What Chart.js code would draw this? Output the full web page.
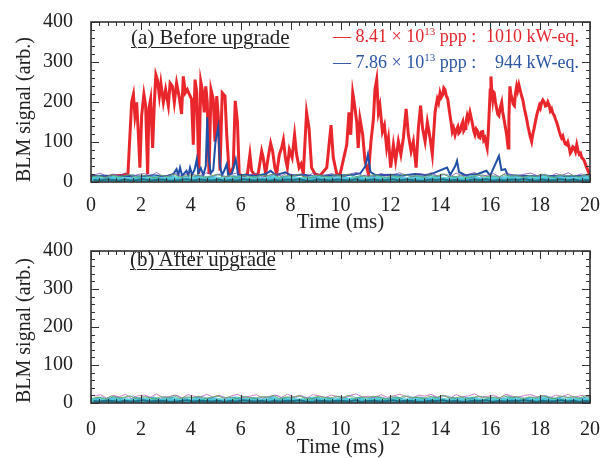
<!DOCTYPE html>
<html>
<head>
<meta charset="utf-8">
<script src="https://cdn.jsdelivr.net/npm/chart.js@4.4.1/dist/chart.umd.min.js"></script>
<style>
  body { margin: 0; background: #fff; }
  #wrap { position: relative; width: 612px; height: 458px; font-family: "Liberation Serif", serif; }
  canvas { position: absolute; left: 0; }
  .tag { position: absolute; font-size: 21px; color: #222; text-decoration: underline; text-decoration-thickness: 1px; text-underline-offset: 3px; white-space: pre; }
  .leg { position: absolute; left: 333px; width: 246px; font-size: 18px; display: flex; justify-content: space-between; white-space: pre; }
  .leg sup { font-size: 11px; vertical-align: 7px; line-height: 0; }
</style>
</head>
<body>
<div id="wrap">
  <canvas id="chartA" width="612" height="240" style="top:0"></canvas>
  <canvas id="chartB" width="612" height="229" style="top:229px"></canvas>
  <div class="tag" style="left:131px; top:25px">(a) Before upgrade</div>
  <div class="tag" style="left:130px; top:247px">(b) After upgrade</div>
  <div class="leg" style="top:26px; color:#e4262c"><span>— 8.41 × 10<sup>13</sup> ppp :</span><span>1010 kW-eq.</span></div>
  <div class="leg" style="top:52px; color:#2d55a5"><span>— 7.86 × 10<sup>13</sup> ppp :</span><span>944 kW-eq.</span></div>
</div>
<script>
// x ticks / y ticks
let xTicks = [0, 2, 4, 6, 8, 10, 12, 14, 16, 18, 20];
let yTicks = [0, 100, 200, 300, 400];

// 8.41e13 ppp (red)
let redTimes = [0,0.4,0.8,1.2,1.48,1.63,1.70,1.76,1.83,1.90,1.96,2.03,2.12,2.19,2.27,2.32,2.39,2.47,2.54,2.60,
  2.66,2.74,2.80,2.90,2.99,3.10,3.17,3.26,3.34,3.43,3.54,3.63,3.70,3.78,3.86,3.97,4.03,4.10,4.17,4.24,
  4.32,4.40,4.46,4.54,4.60,4.66,4.73,4.81,4.90,4.97,5.04,5.10,5.17,5.26,5.37,5.44,5.54,5.70,5.78,5.87,
  5.94,6.10,6.27,6.37,6.44,6.57,6.70,6.84,6.90,7.00,7.10,7.20,7.28,7.37,7.44,7.55,7.64,7.71,7.79,7.87,
  7.95,8.06,8.16,8.24,8.34,8.42,8.51,8.64,8.74,8.84,8.98,9.18,9.45,9.62,9.71,9.85,9.98,10.25,10.34,10.41,
  10.49,10.55,10.65,10.71,10.78,10.89,10.98,11.12,11.22,11.32,11.38,11.45,11.52,11.58,11.68,11.76,11.85,11.92,12.01,12.12,
  12.21,12.32,12.42,12.52,12.63,12.72,12.83,12.92,13.03,13.12,13.21,13.29,13.39,13.48,13.59,13.68,
  13.79,13.83,13.88,13.93,13.99,14.04,14.10,14.14,14.19,14.24,14.30,14.34,14.39,14.43,14.48,14.53,14.59,14.64,14.70,14.74,
  14.79,14.84,14.90,14.94,14.99,15.03,15.08,15.13,15.19,15.24,15.30,15.34,15.39,15.44,15.50,15.54,15.59,15.64,15.70,15.74,
  15.79,15.83,15.88,15.92,15.96,16.00,16.03,16.06,16.10,16.13,16.16,16.21,16.26,16.30,16.35,16.40,16.46,16.50,16.55,16.60,
  16.66,16.69,16.72,16.75,16.79,16.83,16.88,16.92,16.97,17.01,17.06,17.10,17.15,17.20,17.26,17.31,17.37,17.41,17.46,17.51,
  17.56,17.61,17.66,17.71,17.76,17.81,17.86,17.91,17.97,18.01,18.06,18.11,18.17,18.21,18.26,18.31,18.37,18.41,18.46,18.51,
  18.57,18.61,18.66,18.71,18.77,18.81,18.86,18.91,18.97,19.01,19.06,19.11,19.17,19.21,19.26,19.31,19.37,19.42,19.47,19.52,
  19.57,19.62,19.67,19.72,19.77,19.82,19.87,19.92,19.97];
let redValues = [14,12,15,16,20,200,219,166,199,118,36,166,219,191,20,183,207,85,199,268,
  256,215,247,199,231,191,247,239,199,247,211,170,264,223,231,215,207,93,256,223,
  20,251,231,174,239,199,20,231,207,101,215,166,28,223,215,118,20,36,203,150,
  20,12,20,69,28,16,20,77,61,20,61,97,77,36,20,69,85,105,61,36,
  81,61,118,69,36,45,20,174,134,36,20,16,36,142,61,20,18,93,174,118,
  223,199,150,85,158,118,53,20,101,158,231,256,174,191,126,142,85,110,36,93,
  53,101,69,110,183,118,77,101,36,134,191,134,101,150,110,69,
  174,190,207,198,223,212,219,235,231,215,207,188,166,150,126,135,118,130,138,122,
  126,140,150,128,134,150,166,155,174,160,142,128,118,132,126,112,110,125,126,105,
  110,98,85,120,174,230,264,230,207,225,223,200,183,170,166,185,199,175,158,140,
  118,100,85,160,239,220,207,195,191,220,239,228,243,230,215,205,183,172,158,140,
  126,112,101,120,134,150,166,178,191,185,199,205,199,190,191,200,191,178,183,172,
  166,158,150,140,126,118,110,115,101,95,93,100,85,72,77,88,85,76,93,78,
  69,72,61,58,53,44,36,28,20];

// 7.86e13 ppp (blue)
let blueTimes = [0,0.5,1.0,1.5,2.0,2.5,3.0,3.3,3.43,3.5,3.57,3.65,3.83,3.9,3.97,4.05,4.15,4.24,4.3,4.4,
  4.5,4.6,4.66,4.72,4.8,4.9,4.99,5.1,5.17,5.25,5.35,5.44,5.5,5.65,5.8,5.9,6.2,6.6,7.0,7.2,
  7.4,7.8,8.0,8.5,9.0,9.5,10.0,10.5,10.8,11.0,11.1,11.2,11.4,12.0,12.5,13.0,13.5,13.8,14.27,14.4,
  14.6,14.67,14.75,15.0,15.5,15.85,16.0,16.35,16.45,16.6,16.7,17.0,17.5,18.0,18.5,19.0,19.5,20];
let blueValues = [14,16,13,15,14,17,14,20,32,17,36,16,28,16,36,18,30,57,22,35,
  17,40,162,60,22,30,101,138,40,17,30,45,17,22,57,16,18,15,20,28,
  17,24,16,18,14,17,16,18,22,40,69,25,17,18,16,20,17,24,36,18,
  40,53,25,17,20,28,16,65,30,32,17,16,15,14,15,14,15,14];

// baseline noise of the other monitors (both panels), one value per 0.25 ms
let noiseStep = 0.25;
let cyanNoise = [11,14,10,13,15,11,10,14,12,11, 15,10,13,14,11,12,10,15,11,14, 12,10,11,15,13,11,14,10,12,15,
  11,14,12,10,11,14,15,11,13,10, 14,12,11,15,10,13,14,11,12,15, 10,11,14,13,11,15,12,10,14,11,
  13,15,11,10,14,12,11,15,13,10, 14,11,13,15,11,14,10,12,11,14, 12];
let purpleNoise = [18,22,13,20,16,23,12,19,21,15, 24,14,17,21,13,22,18,15,23,16, 20,12,19,23,14,18,22,13,17,21,
  15,23,16,20,12,22,19,14,21,17, 13,20,24,16,18,14,22,15,19,23, 17,13,21,18,23,15,20,12,22,16,
  19,24,14,17,21,13,23,18,15,20, 22,16,19,13,21,17,23,14,20,18, 16];
let greenNoise = [12,16,10,18,13,15,19,11,17,14, 10,17,13,20,12,16,14,18,11,15, 19,13,16,10,18,14,12,17,15,20,
  11,16,14,19,13,10,17,15,12,18, 14,20,11,16,13,18,15,10,17,12, 19,14,16,11,18,13,20,15,12,17,
  10,15,18,13,16,12,19,14,17,11, 16,13,20,15,11,18,14,17,12,19, 13];
let floorNoise = [5,4,6,5,3,6,4,5,7,4, 5,6,4,3,5,7,4,6,5,4, 6,3,5,4,7,5,4,6,3,5,
  4,6,5,7,4,3,6,5,4,6, 5,4,7,3,5,6,4,5,7,4, 6,5,3,4,6,5,7,4,5,3,
  4,6,5,7,3,5,4,6,5,7, 5,3,6,4,5,7,4,6,3,5, 4];

function pairs(times, values) {
    return values.map(function(v, i) { return { x: times[i], y: v }; });
}

function noisePairs(values, offset) {
    return values.map(function(v, i) {
        return { x: Math.min(20, i * noiseStep + offset), y: v };
    });
}

function noiseSets(tint) {
    return [
        { data: noisePairs(floorNoise, 0.1), borderColor: '#1d6f86', borderWidth: 2 },
        { data: noisePairs(greenNoise, 0.06), borderColor: 'rgba(90,175,80,0.8)', borderWidth: 1 },
        { data: noisePairs(purpleNoise, 0.13), borderColor: tint, borderWidth: 1 },
        { data: noisePairs(greenNoise, 0.19), borderColor: 'rgba(70,110,200,0.6)', borderWidth: 1 },
        { data: noisePairs(cyanNoise, 0.03), borderColor: '#5fd0dd', backgroundColor: '#4cc6d8', borderWidth: 1.5, fill: 'origin' }
    ];
}

// inner ticks on all four sides + frame
const frameTicks = {
    id: 'frameTicks',
    afterDatasetsDraw(chart) {
        const { ctx, chartArea: a, scales: { x, y } } = chart;
        ctx.save();
        ctx.strokeStyle = '#333';
        ctx.lineWidth = 1;
        ctx.beginPath();
        for (let i = 0; i <= 60; i++) {
            let px = Math.round(x.getPixelForValue(i / 3)) + 0.5;
            let len = i % 6 === 0 ? 8 : 4;
            ctx.moveTo(px, a.top); ctx.lineTo(px, a.top + len);
            ctx.moveTo(px, a.bottom); ctx.lineTo(px, a.bottom - len);
        }
        for (let v = 0; v <= 400; v += 20) {
            let py = Math.round(y.getPixelForValue(v)) + 0.5;
            let len = v % 100 === 0 ? 8 : 4;
            ctx.moveTo(a.left, py); ctx.lineTo(a.left + len, py);
            ctx.moveTo(a.right, py); ctx.lineTo(a.right - len, py);
        }
        ctx.stroke();
        ctx.lineWidth = 1.6;
        ctx.strokeRect(a.left, a.top, a.width, a.height);
        ctx.restore();
    }
};

function makeChart(id, datasets, padTop, axisHeight, tickPad, titlePad) {
    let font = { family: '"Liberation Serif", serif', size: 20 };
    return new Chart(document.getElementById(id), {
        type: 'line',
        data: { datasets: datasets },
        options: {
            responsive: false,
            animation: false,
            layout: { padding: { top: padTop, right: 22, left: 0, bottom: 0 } },
            elements: { point: { radius: 0 }, line: { tension: 0, fill: false } },
            plugins: { legend: { display: false }, tooltip: { enabled: false } },
            scales: {
                x: {
                    type: 'linear', min: 0, max: 20,
                    afterFit: function(s) { s.height = axisHeight; },
                    afterBuildTicks: function(s) { s.ticks = xTicks.map(function(v) { return { value: v }; }); },
                    grid: { display: false },
                    border: { display: false },
                    ticks: { color: '#222', font: font, padding: tickPad, maxRotation: 0 },
                    title: { display: true, text: 'Time (ms)', color: '#222',
                        font: { family: font.family, size: 21, lineHeight: 0.65 }, padding: { top: 0, bottom: titlePad } }
                },
                y: {
                    min: 0, max: 400,
                    afterFit: function(s) { s.width = 91; },
                    afterBuildTicks: function(s) { s.ticks = yTicks.map(function(v) { return { value: v }; }); },
                    grid: { display: false },
                    border: { display: false },
                    ticks: { color: '#222', font: font, padding: 10 },
                    title: { display: true, text: 'BLM signal (arb.)', color: '#222', align: 'start',
                        font: { family: font.family, size: 20, lineHeight: 1 }, padding: { top: 15, bottom: 0 } }
                }
            }
        },
        plugins: [frameTicks]
    });
}

let setsA = noiseSets('rgba(120,70,160,0.75)').concat([
    { data: pairs(blueTimes, blueValues), borderColor: '#1f4fa6', borderWidth: 2 },
    { data: pairs(redTimes, redValues), borderColor: '#e8262b', borderWidth: 3 }
]);
makeChart('chartA', setsA, 17, 58, 4, 11);
makeChart('chartB', noiseSets('rgba(190,80,170,0.7)'), 11, 55, 7, 4);
</script>
</body>
</html>
